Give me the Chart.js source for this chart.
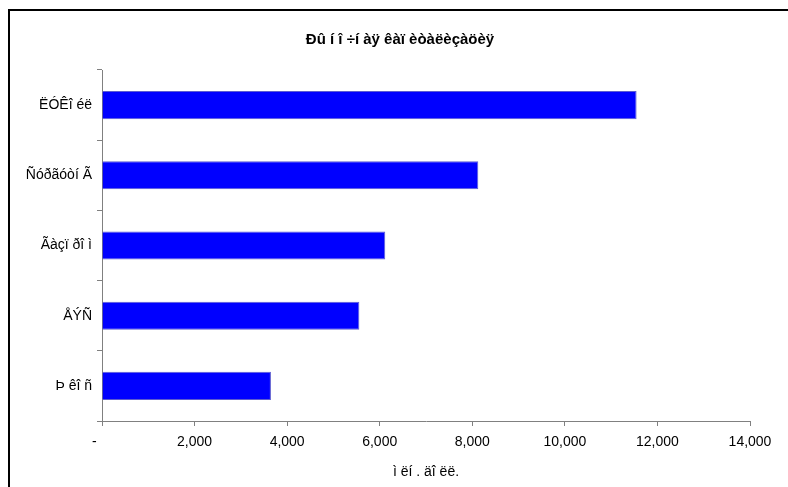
<!DOCTYPE html>
<html>
<head>
<meta charset="utf-8">
<script src="https://cdn.jsdelivr.net/npm/chart.js@4"></script>
<style>
  html, body { margin: 0; padding: 0; background: #fff; overflow: hidden; }
  #wrap { position: relative; width: 788px; height: 487px; }
  #frame { position: absolute; left: 8px; top: 9px; width: 820px; height: 520px;
           border: 2px solid #000; box-sizing: border-box; pointer-events: none; }
</style>
</head>
<body>
<div id="wrap">
  <canvas id="grafico" width="788" height="487"></canvas>
  <div id="frame"></div>
</div>
<script>
// datos
const categorias = ['ËÓÊî éë', 'Ñóðãóòí Ã', 'Ãàçï ðî ì', 'ÅÝÑ', 'Þ êî ñ'];
const valores    = [11550, 8130, 6120, 5560, 3650];
const titulo     = 'Ðû í î ÷í àÿ êàï èòàëèçàöèÿ';
const tituloEje  = 'ì ëí . äî ëë.';
const ejeMin = 0, ejeMax = 14000, ejePaso = 2000;

const fuente = 'Liberation Sans, Arial, sans-serif';
const gris = '#808080';
const nb = '\u00a0';

const ctx = document.getElementById('grafico').getContext('2d');
new Chart(ctx, {
  type: 'bar',
  data: {
    labels: categorias,
    datasets: [{
      data: valores,
      backgroundColor: '#0000FF',
      borderColor: '#5c5cd0',
      borderWidth: 1,
      barPercentage: 0.4,
      categoryPercentage: 1
    }]
  },
  options: {
    indexAxis: 'y',
    responsive: false,
    animation: false,
    layout: { padding: { left: 0, right: 38, top: 0, bottom: 0 } },
    plugins: {
      legend: { display: false },
      tooltip: { enabled: false },
      title: {
        display: true,
        // espacios al inicio para centrar como en Excel
        text: nb.repeat(12) + titulo,
        color: '#000',
        font: { family: fuente, size: 15, weight: 'bold', lineHeight: 1.2 },
        padding: { top: 31, bottom: 21 }
      }
    },
    scales: {
      x: {
        min: ejeMin,
        max: ejeMax,
        afterFit: (s) => { s.height = 66; },
        border: { color: gris, width: 1 },
        grid: { drawOnChartArea: false, drawTicks: true, tickLength: 5, color: gris },
        ticks: {
          stepSize: ejePaso,
          color: '#000',
          padding: 8,
          maxRotation: 0,
          font: { family: fuente, size: 14 },
          callback: (v) => v === 0 ? '-' + nb.repeat(4) : v.toLocaleString('en-US')
        },
        title: {
          display: true,
          text: tituloEje,
          color: '#000',
          font: { family: fuente, size: 14 },
          padding: { top: 0, bottom: 6 }
        }
      },
      y: {
        afterFit: (s) => { s.width = 102; },
        border: { color: gris, width: 1 },
        grid: { drawOnChartArea: false, drawTicks: true, tickLength: 5, color: gris },
        ticks: {
          color: '#000',
          padding: 5,
          font: { family: fuente, size: 14 }
        }
      }
    }
  }
});
</script>
</body>
</html>
